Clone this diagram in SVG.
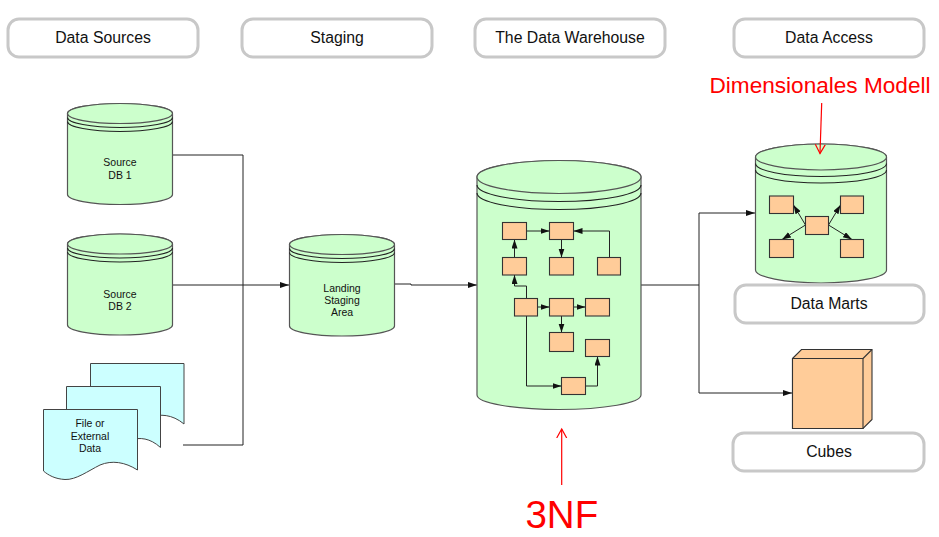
<svg xmlns="http://www.w3.org/2000/svg" width="939" height="537" viewBox="0 0 939 537">
<style>
text{font-family:"Liberation Sans",Arial,sans-serif;text-anchor:middle;fill:#111}
.lab{fill:#fff;stroke:#c8c8c8;stroke-width:3}
.lt{font-size:15.800px}
.sm{font-size:10.500px}
.cyl{fill:#ccffcc;stroke:#555;stroke-width:1.200}
.rim{fill:none;stroke:#222;stroke-width:1.100}
.b{fill:#ffcc99;stroke:#333;stroke-width:1.100}
.doc{fill:#ccffff;stroke:#444;stroke-width:1}
.c{fill:none;stroke:#222;stroke-width:1}
.ca{fill:none;stroke:#222;stroke-width:1;marker-end:url(#a)}
.r{fill:none;stroke:#f00;stroke-width:1.200;marker-end:url(#ra)}
.red{fill:#f00}
</style>
<defs>
<marker id="a" markerUnits="userSpaceOnUse" markerWidth="10" markerHeight="8" refX="9" refY="3" orient="auto"><path d="M0 0L9 3L0 6Z" fill="#111"/></marker>
<marker id="ra" markerUnits="userSpaceOnUse" markerWidth="12" markerHeight="12" refX="9" refY="5.500" orient="auto"><path d="M0 0.500L9 5.500L0 10.500" fill="none" stroke="#f00" stroke-width="1.200"/></marker>
</defs>
<rect width="939" height="537" fill="#fff"/>
<g id="connectors">
<path class="c" d="M183 445H243V155H172"/>
<path class="ca" d="M172 285H289"/>
<path class="ca" d="M395 284H411V285H477"/>
<path class="c" d="M641 285H699"/>
<path class="ca" d="M699 285V213H755"/>
<path class="ca" d="M699 285V393H792"/>
</g>
<g id="hdr-sources"><rect class="lab" x="8" y="19" width="190" height="38" rx="11"/><text class="lt" x="103" y="43">Data Sources</text></g>
<g id="hdr-staging"><rect class="lab" x="242" y="19" width="190" height="38" rx="11"/><text class="lt" x="337" y="43">Staging</text></g>
<g id="hdr-dw"><rect class="lab" x="475" y="19" width="190" height="38" rx="11"/><text class="lt" x="570" y="43">The Data Warehouse</text></g>
<g id="hdr-access"><rect class="lab" x="734" y="19" width="190" height="38" rx="11"/><text class="lt" x="829" y="43">Data Access</text></g>
<g id="db1">
<path class="cyl" d="M67.500 113.500V194.500A52.500 10 0 0 0 172.500 194.500V113.500A52.500 10 0 0 0 67.500 113.500Z"/>
<ellipse class="cyl" cx="120" cy="113.500" rx="52.500" ry="10"/>
<path class="rim" d="M67.500 117.500A52.500 10 0 0 0 172.500 117.500M67.500 121.500A52.500 10 0 0 0 172.500 121.500"/>
<text class="sm" x="120" y="166">Source</text><text class="sm" x="120" y="179">DB 1</text>
</g>
<g id="db2">
<path class="cyl" d="M67.500 244V325A52.500 10 0 0 0 172.500 325V244A52.500 10 0 0 0 67.500 244Z"/>
<ellipse class="cyl" cx="120" cy="244" rx="52.500" ry="10"/>
<path class="rim" d="M67.500 248A52.500 10 0 0 0 172.500 248M67.500 252A52.500 10 0 0 0 172.500 252"/>
<text class="sm" x="120" y="297.500">Source</text><text class="sm" x="120" y="310">DB 2</text>
</g>
<g id="files">
<path class="doc" d="M90.500 363.500H184V424C172 414 160 414 150 417C140 420 120 428 90.500 424Z"/>
<path class="doc" d="M66.500 386.500H160.500V447.500C150 438 140 437 130 440C115 445 90 452 66.500 447Z"/>
<path class="doc" d="M43.500 409.500H137.500V470C125 462 112 460 100 465C88 471 76 480 65 479.500C55 479 48 475 43.500 471Z"/>
<text class="sm" x="90" y="427">File or</text><text class="sm" x="90" y="439.500">External</text><text class="sm" x="90" y="451.500">Data</text>
</g>
<g id="landing">
<path class="cyl" d="M289.500 244.500V326A52.500 10 0 0 0 394.500 326V244.500A52.500 10 0 0 0 289.500 244.500Z"/>
<ellipse class="cyl" cx="342" cy="244.500" rx="52.500" ry="10"/>
<path class="rim" d="M289.500 248.500A52.500 10 0 0 0 394.500 248.500M289.500 252.500A52.500 10 0 0 0 394.500 252.500"/>
<text class="sm" x="342" y="292">Landing</text><text class="sm" x="342" y="304">Staging</text><text class="sm" x="342" y="316">Area</text>
</g>
<g id="warehouse">
<path class="cyl" d="M477 177V395A82 14.500 0 0 0 641 395V177A82 16.500 0 0 0 477 177Z"/>
<ellipse class="cyl" cx="559" cy="177" rx="82" ry="16.500"/>
<path class="rim" d="M477 185A82 16.500 0 0 0 641 185M477 193A82 16.500 0 0 0 641 193"/>
<g>
<path class="ca" d="M526.500 231H549.500"/>
<path class="ca" d="M514.500 257.500V239.500"/>
<path class="ca" d="M561.500 239.500V257.500"/>
<path class="ca" d="M609.500 257.500V231H573.500"/>
<path class="ca" d="M526.500 298.500V286H514.500V275"/>
<path class="ca" d="M537.500 307H549.500"/>
<path class="ca" d="M573.500 307H585.500"/>
<path class="ca" d="M561.500 316V332.500"/>
<path class="ca" d="M526.500 316V386H561.500"/>
<path class="ca" d="M585.500 386H597.500V356.500"/>
</g>
<rect class="b" x="502.500" y="222.500" width="24" height="17"/>
<rect class="b" x="549.500" y="222.500" width="24" height="17"/>
<rect class="b" x="502.500" y="257.500" width="24" height="17.500"/>
<rect class="b" x="549.500" y="257.500" width="24" height="17.500"/>
<rect class="b" x="597.500" y="257.500" width="23" height="17.500"/>
<rect class="b" x="514.500" y="298.500" width="23" height="17.500"/>
<rect class="b" x="549.500" y="298.500" width="24" height="17.500"/>
<rect class="b" x="585.500" y="298.500" width="24" height="17.500"/>
<rect class="b" x="549.500" y="332.500" width="24" height="19"/>
<rect class="b" x="585.500" y="339.500" width="24" height="17"/>
<rect class="b" x="561.500" y="377.500" width="24" height="17"/>
</g>
<g id="marts">
<path class="cyl" d="M755.500 157V270A65.500 13 0 0 0 886.500 270V157A65.500 13 0 0 0 755.500 157Z"/>
<ellipse class="cyl" cx="821" cy="157" rx="65.500" ry="13"/>
<path class="rim" d="M755.500 163.500A65.500 13 0 0 0 886.500 163.500M755.500 170A65.500 13 0 0 0 886.500 170"/>
<path class="ca" d="M805.500 225L793.500 205"/>
<path class="ca" d="M828.500 225L840.500 205"/>
<path class="ca" d="M805.500 225L782 239.500"/>
<path class="ca" d="M828.500 225L852 239.500"/>
<rect class="b" x="769.500" y="196" width="24" height="17.500"/>
<rect class="b" x="840.500" y="196" width="23" height="17.500"/>
<rect class="b" x="805.500" y="216.500" width="23" height="18"/>
<rect class="b" x="769.500" y="239.500" width="24" height="18"/>
<rect class="b" x="840.500" y="239.500" width="23" height="18"/>
</g>
<g id="lab-marts"><rect class="lab" x="735" y="285" width="189" height="38" rx="11"/><text class="lt" x="829" y="309">Data Marts</text></g>
<g id="cube">
<path class="b" d="M792.500 358.500L801.500 349.500H872V419.500L863 428.500H792.500Z"/>
<path class="b" d="M792.500 358.500H863V428.500H792.500Z"/>
<path class="b" d="M863 358.500L872 349.500"/>
</g>
<g id="lab-cubes"><rect class="lab" x="733" y="433" width="191" height="38" rx="11"/><text class="lt" x="829" y="457">Cubes</text></g>
<g id="note-dim"><text class="red" x="820" y="92.700" font-size="22.600">Dimensionales Modell</text><path class="r" d="M821.700 103L820 153.500"/></g>
<g id="note-3nf"><text class="red" x="561.800" y="528" font-size="38.500">3NF</text><path class="r" d="M561.700 485V429"/></g>
</svg>
